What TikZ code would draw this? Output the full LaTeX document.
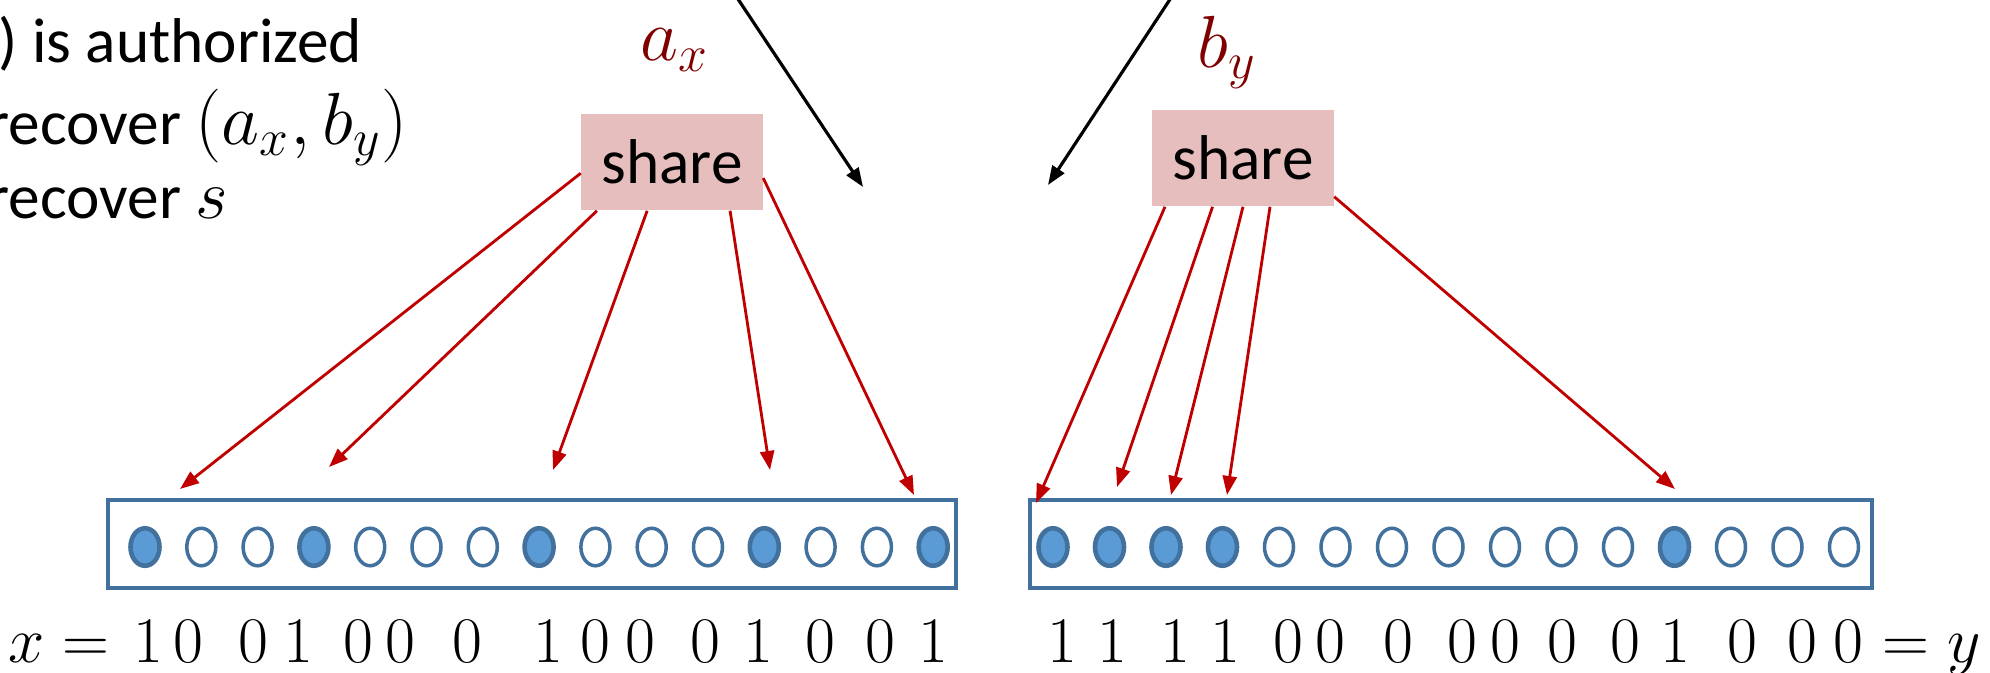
\documentclass[tikz,border=0pt]{standalone}
\usepackage{fix-cm}
\usepackage[no-math]{fontspec}
\setmainfont{Carlito}
\usetikzlibrary{arrows.meta,shapes.geometric}

\definecolor{sharepink}{RGB}{230,190,189}
\definecolor{arrowred}{RGB}{192,0,0}
\definecolor{labelred}{RGB}{128,0,0}
\definecolor{dotline}{RGB}{65,113,156}
\definecolor{dot1}{RGB}{91,155,213}
\definecolor{dot0}{RGB}{255,255,255}

\tikzset{
  sharebox/.style={fill=sharepink, minimum width=1.81cm, minimum height=0.96cm,
    inner sep=0pt, font=\fontsize{18}{20}\selectfont},
  bitbox/.style={draw=dotline, line width=1.1pt, minimum width=8.48cm,
    minimum height=0.88cm, inner sep=0pt},
  dot/.style={ellipse, draw=dotline, minimum width=0.29cm, minimum height=0.375cm,
    inner sep=0pt},
  bit/.style={anchor=base, inner sep=0pt, font=\fontsize{18.5}{20}\selectfont},
  redarrow/.style={draw=arrowred, line width=0.8pt,
    -{Triangle[length=0.19cm,width=0.14cm]}},
  blackarrow/.style={draw=black, line width=0.9pt,
    -{Triangle[length=0.19cm,width=0.14cm]}},
  txt/.style={anchor=base west, inner sep=0pt, font=\fontsize{18}{20}\selectfont}
}

\begin{document}
\begin{tikzpicture}[x=0.01cm, y=-0.01cm]
    \useasboundingbox (0,0) rectangle (1990,672);
    \clip (0,0) rectangle (1990,672);

    % text at top left
    \node[txt] (line1) at (-2,62) {) is authorized};
    \node[txt] (line2) at (-13,144) {recover {\fontsize{21}{24}\selectfont$(a_x, b_y)$}};
    \node[txt] (line3) at (-13,218) {recover {\fontsize{20}{24}\selectfont$s$}};

    \node[text=labelred, font=\fontsize{21}{24}\selectfont] (ax) at (675,50) {$a_x$};
    \node[text=labelred, font=\fontsize{21}{24}\selectfont] (by) at (1227,52) {$b_y$};

    % incoming arrows
    \coordinate (ain) at (722,-25);
    \coordinate (aend) at (863,187);
    \coordinate (bin) at (1186,-25);
    \coordinate (bend) at (1048,185);
    \draw[blackarrow] (ain) -- (aend);
    \draw[blackarrow] (bin) -- (bend);

    \node[sharebox] (shareL) at (672,162) {share};
    \node[sharebox] (shareR) at (1243,158) {share};

    % bit strings
    \node[bitbox] (xbox) at (532,544) {};
    \node[bitbox, minimum width=8.42cm] (ybox) at (1451,544) {};

    \foreach \b [count=\i from 0] in {1,0,0,1,0,0,0,1,0,0,0,1,0,0,1}
        \node[dot, fill=dot\b, line width={1pt+0.3pt*\b}] (x\i) at ({145+56.3*\i},547) {};
    \foreach \b [count=\i from 0] in {1,1,1,1,0,0,0,0,0,0,0,1,0,0,0}
        \node[dot, fill=dot\b, line width={1pt+0.3pt*\b}] (y\i) at ({1053+56.5*\i},547) {};

    % digits
    \foreach \b/\d [count=\i] in {1/148,0/188,0/253,1/298,0/358,0/400,0/467,1/548,
                                  0/595,0/640,0/705,1/758,0/820,0/880,1/933}
        \node[bit] (xb\i) at (\d,662) {$\b$};
    \foreach \b/\d [count=\i] in {1/1062,1/1112,1/1175,1/1225,0/1288,0/1330,0/1398,0/1462,
                                  0/1505,0/1562,0/1625,1/1675,0/1742,0/1802,0/1848}
        \node[bit] (yb\i) at (\d,662) {$\b$};
    \node[bit, anchor=base west] (xeq) at (8,662) {$x =$};
    \node[bit, anchor=base west] (yeq) at (1882,662) {$= y$};

    % shares to positions
    \foreach \a/\px/\py [count=\i] in {187/180/489, 213/329/467, 243/553/470, 320/770/470, 350/914/495}{
        \coordinate (xa\i) at (\px,\py);
        \draw[redarrow] (shareL.\a) -- (xa\i);
    }
    \foreach \a/\px/\py [count=\i] in {212/1036/503, 238/1117/487, 270/1171/495, 299/1227/495, 337/1675/489}{
        \coordinate (ya\i) at (\px,\py);
        \draw[redarrow] (shareR.\a) -- (ya\i);
    }
\end{tikzpicture}
\end{document}
